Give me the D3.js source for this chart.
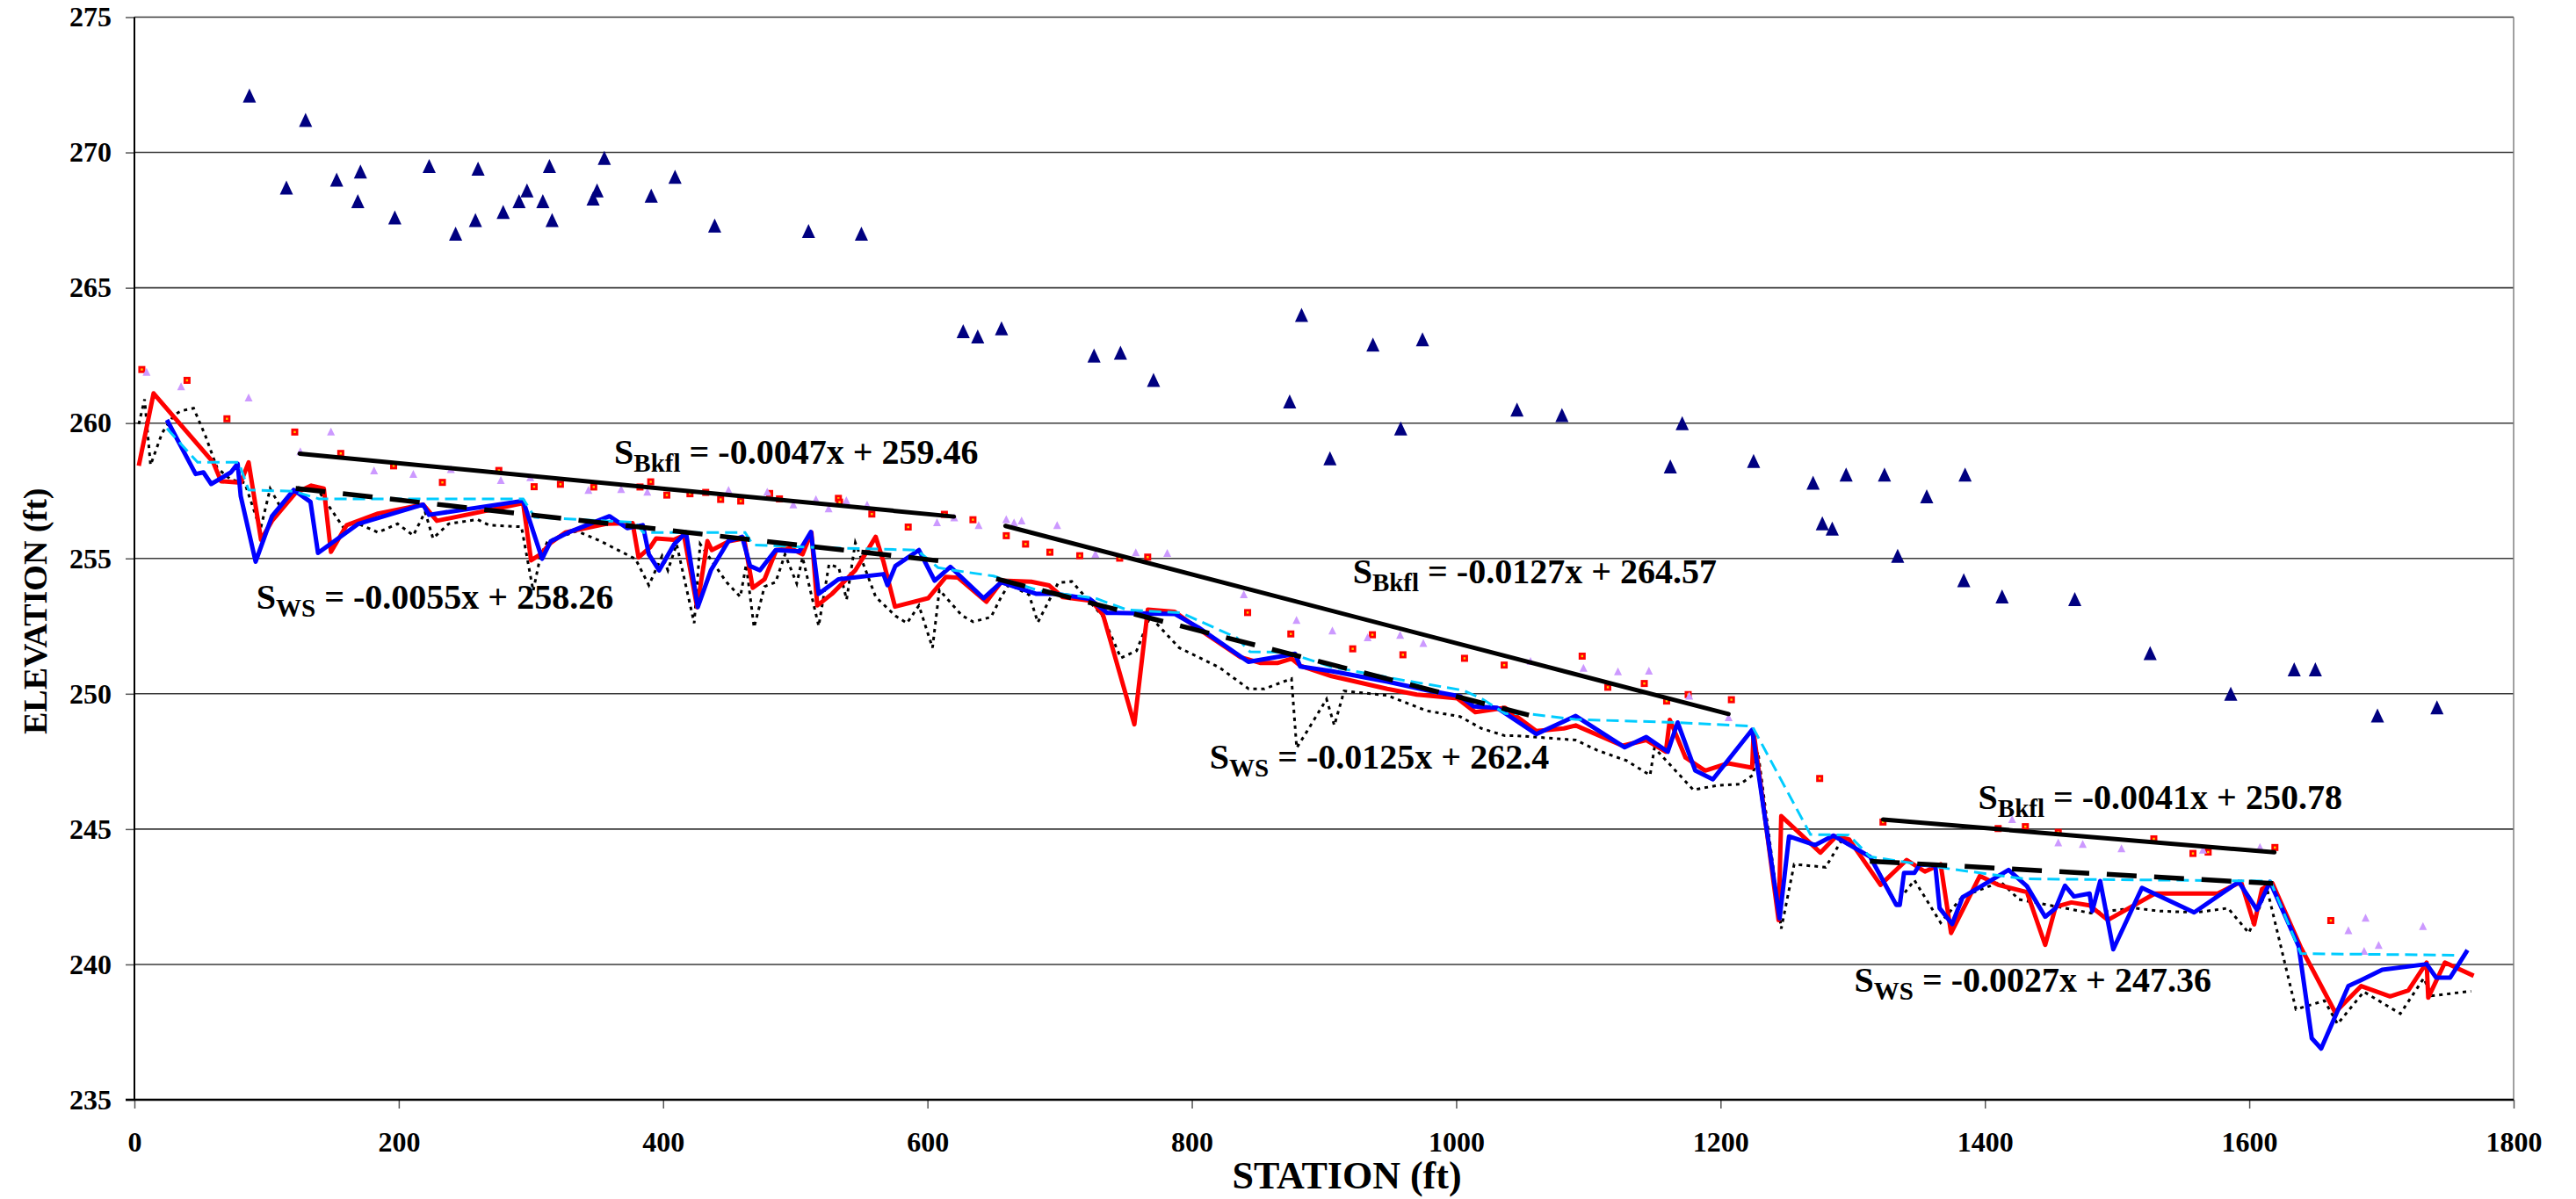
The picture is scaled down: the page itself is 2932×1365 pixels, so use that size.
<!DOCTYPE html>
<html>
<head>
<meta charset="utf-8">
<script src="https://cdn.jsdelivr.net/npm/d3@7"></script>
<style>
  body { margin: 0; background: #ffffff; }
  svg { display: block; }
  text { font-family: "Liberation Serif", "Times New Roman", serif; font-weight: bold; }
</style>
</head>
<body>
<svg id="chart" width="2932" height="1365"></svg>
<script>
// ---------------- data ----------------
const stationTicks = [0, 200, 400, 600, 800, 1000, 1200, 1400, 1600, 1800];
const elevationTicks = [235, 240, 245, 250, 255, 260, 265, 270, 275];

// valley / terrace elevations [station, elevation]
const terrace = [
  [87,272.1],[115,268.7],[129.5,271.2],[153,269.0],[169,268.2],[171,269.3],[197,267.6],[223,269.5],
  [243,267.0],[258,267.5],[260,269.4],[279,267.8],[291,268.2],[297,268.6],[309,268.2],[314,269.5],
  [316,267.5],[347,268.3],[350,268.6],[355.5,269.8],[391,268.4],[409,269.1],[439,267.3],[510,267.1],
  [550,267.0],[627,263.4],[638,263.2],[656,263.5],[726,262.5],[746,262.6],[771,261.6],[874,260.8],
  [883,264.0],[904.5,258.7],[937,262.9],[958,259.8],[974.5,263.1],[1046,260.5],[1080,260.3],
  [1162,258.4],[1171,260.0],[1225,258.6],[1270,257.8],[1277,256.3],[1284.5,256.1],[1295,258.1],
  [1324,258.1],[1334,255.1],[1356,257.3],[1384,254.2],[1385,258.1],[1413,253.6],[1468,253.5],
  [1525,251.5],[1586,250.0],[1634,250.9],[1650,250.9],[1697,249.2],[1742,249.5]
];

// bankfull indicators, left bank [station, elevation]
const bkflLeft = [
  [5.6,261.98],[39.8,261.58],[70.0,260.16],[121.3,259.67],[156.1,258.88],[196.1,258.42],[233,257.81],
  [275.7,258.25],[302.4,257.65],[322.3,257.74],[347.5,257.64],[382.5,257.64],[390.6,257.83],
  [402.8,257.34],[420.3,257.39],[432.2,257.44],[443.5,257.18],[458.7,257.12],[480.6,257.40],
  [488.0,257.20],[532.6,257.22],[533.5,257.08],[557.9,256.64],[585.4,256.16],[612.8,256.63],
  [634.4,256.43],[659.6,255.84],[674.2,255.53],[692.6,255.23],[715.2,255.10],[745.4,255.01],
  [766.6,255.05],[842.2,253.00],[874.9,252.21],[921.7,251.66],[936.6,252.18],[959.7,251.44],
  [1006.3,251.31],[1036.3,251.06],[1095.3,251.39],[1114.7,250.24],[1142.3,250.38],[1159.2,249.73],
  [1175.5,249.97],[1208.2,249.78],[1275.0,246.87],[1322.9,245.26],[1410.0,245.02],[1430.6,245.09],
  [1455.5,244.88],[1527.8,244.64],[1557.4,244.10],[1568.9,244.15],[1619.4,244.32],[1661.7,241.62]
];

// bankfull indicators, right bank [station, elevation]
const bkflRight = [
  [9.2,261.9],[35.3,261.36],[86.4,260.95],[125.5,258.96],[148.7,259.69],[181.3,258.25],[211.0,258.12],
  [239.4,258.30],[277.2,257.90],[299.5,258.00],[343.5,257.53],[368.2,257.56],[388,257.47],
  [449.5,257.53],[478.8,257.47],[498.5,257.00],[515.6,257.19],[525.2,256.85],[538.6,257.15],
  [554.3,256.99],[607.2,256.34],[620.2,256.52],[638.7,256.23],[659.6,256.45],[665.5,256.33],
  [671.2,256.40],[698.1,256.23],[727.0,255.17],[757.6,255.23],[781.4,255.20],[839.3,253.68],
  [879.2,252.73],[906.3,252.34],[933.0,252.09],[957.6,252.18],[975.1,251.88],[1056.2,251.21],
  [1096.3,250.96],[1122.4,250.83],[1145.8,250.85],[1176.3,249.93],[1206.1,249.13],[1420.6,245.37],
  [1455.5,244.51],[1474.0,244.45],[1503.3,244.29],[1565.0,244.24],[1608.1,244.34],[1675.0,241.26],
  [1686.9,240.50],[1688.0,241.73],[1697.9,240.72],[1731.4,241.42]
];

// water surface, first survey (red) [station, elevation]
const wsSurvey1 = [
  [3.3,258.42],[14.5,261.10],[59.6,258.55],[65.6,257.85],[80.4,257.80],[86.4,258.55],[95.8,255.69],
  [104.1,256.39],[121.9,257.42],[133.8,257.69],[143.3,257.58],[148.7,255.24],[160.6,256.23],
  [184.3,256.66],[218.4,256.99],[228.8,256.39],[294.1,257.04],[300.1,254.93],[307.2,255.15],
  [315.0,255.58],[326.0,255.96],[346.0,256.17],[357.0,256.28],[376.9,256.31],[381.4,255.04],
  [390.3,255.42],[394.7,255.74],[408.0,255.69],[415.8,255.85],[425.7,253.20],[433.5,255.64],
  [436.8,255.31],[450.1,255.64],[461.2,255.74],[467.8,253.91],[476.7,254.23],[485.6,255.31],
  [496.7,255.37],[505.5,255.15],[512.2,255.96],[516.6,253.26],[527.7,253.69],[545.4,254.56],
  [553.4,255.20],[560.8,255.80],[566.7,254.88],[575.4,253.22],[600.5,253.53],[614.0,254.32],
  [623.1,254.29],[644.6,253.40],[656.5,254.18],[678.5,254.14],[692.1,254.00],[702.3,253.57],
  [724.3,253.43],[732.8,252.92],[756.5,248.87],[766.7,253.11],[787.0,253.03],[805,252.40],
  [836.8,251.35],[851.6,251.14],[865.2,251.14],[875.4,251.30],[882.2,251.03],[905.8,250.65],
  [947.9,250.18],[970.2,249.97],[1000.8,249.83],[1014.4,249.32],[1036.9,249.48],[1060.6,248.62],
  [1081.5,248.72],[1090.4,248.83],[1125.9,248.08],[1143.8,248.29],[1158.6,247.86],[1161.6,249.04],
  [1173.5,247.64],[1188.3,247.16],[1205.7,247.43],[1223.9,247.27],[1225.0,248.60],[1243.9,241.64],
  [1245.9,245.48],[1275.5,244.13],[1287.4,244.73],[1297.3,244.62],[1321.0,242.94],[1340.8,243.86],
  [1354.6,243.43],[1366.5,243.70],[1374.4,241.16],[1396.2,243.27],[1410.0,242.94],[1431.8,242.67],
  [1445.6,240.72],[1453.5,242.13],[1465.4,242.29],[1479.2,242.18],[1493.0,241.64],[1528.6,242.62],
  [1576.1,242.62],[1593.8,243.05],[1603.7,241.48],[1609.6,242.78],[1617.5,243.00],[1639.2,240.61],
  [1665.0,238.23],[1684.7,239.20],[1706.5,238.82],[1720.3,239.04],[1734.2,240.07],[1735.4,238.77],
  [1748.0,240.07],[1769.8,239.58]
];

// water surface, second survey (blue) [station, elevation]
const wsSurvey2 = [
  [24.6,260.12],[46.3,258.12],[52.2,258.18],[58.1,257.75],[73.0,258.18],[78.1,258.50],[80.4,257.31],
  [91.7,254.88],[104.1,256.56],[120.5,257.53],[133.2,257.09],[138.9,255.20],[169.5,256.28],
  [218.4,256.99],[222.9,256.61],[294.1,257.13],[308.4,254.99],[314.9,255.63],[328.3,255.96],
  [359.4,256.56],[372.8,256.12],[384.6,256.23],[389.2,255.15],[397.0,254.56],[408.4,255.53],
  [417.3,255.96],[426.2,253.20],[436.1,254.56],[449.4,255.64],[459.8,255.80],[465.8,254.72],
  [473.2,254.56],[485.1,255.31],[502.9,255.26],[511.8,255.98],[517.7,253.69],[532.6,254.23],
  [566.7,254.42],[569.7,254.01],[575.7,254.72],[593.5,255.31],[605.4,254.18],[617.3,254.69],
  [642.4,253.53],[655.8,254.12],[682.5,253.69],[697.3,253.69],[722.6,253.51],[735.9,252.99],
  [787.0,252.95],[805,252.45],[842.8,251.18],[872.1,251.42],[878.1,251.48],[882.0,251.01],
  [906.4,250.83],[947.9,250.45],[977.6,250.13],[1002.8,249.91],[1013.2,249.53],[1031.0,249.48],
  [1060.6,248.51],[1090.4,249.18],[1127.5,248.02],[1143.8,248.40],[1160.1,247.86],[1167.5,248.94],
  [1180.9,247.16],[1194.2,246.84],[1223.9,248.67],[1244.7,241.70],[1251.8,244.73],[1271.6,244.41],
  [1285.4,244.76],[1313.1,243.98],[1332.9,242.20],[1335.6,242.20],[1338.8,243.38],[1346.7,243.38],
  [1350.7,243.70],[1362.5,243.65],[1365.7,242.08],[1375.2,241.49],[1383.1,242.48],[1417.9,243.49],
  [1431.8,242.89],[1445.6,241.76],[1453.5,242.08],[1460.6,242.91],[1467.4,242.51],[1479.2,242.62],
  [1481.2,241.97],[1487.2,243.08],[1497.1,240.56],[1518.8,242.83],[1558.3,241.92],[1592.0,243.05],
  [1605.8,242.02],[1615.7,243.05],[1637.4,240.67],[1647.3,237.27],[1654.4,236.89],[1675.0,239.20],
  [1684.7,239.42],[1700.6,239.80],[1734.2,240.01],[1741.4,239.51],[1752.0,239.51],[1765.1,240.53]
];

// thalweg (black dotted) [station, elevation]
const thalweg = [
  [3.3,259.96],[7.7,260.88],[12.2,258.45],[21.0,259.64],[29.9,260.29],[35.2,260.45],[44.8,260.55],
  [53.7,259.53],[62.6,258.34],[73.0,257.91],[83.4,257.80],[95.3,256.07],[102.7,257.58],[110.1,256.93],
  [121.9,257.64],[139.7,257.47],[160.6,255.96],[169.5,256.28],[184.3,255.96],[199.1,256.28],
  [211.0,255.85],[219.9,256.72],[225.9,255.74],[237.7,256.28],[259.6,256.44],[268.4,256.23],
  [292.8,256.17],[301.7,253.80],[307.2,255.10],[312.7,255.64],[334.9,256.01],[352.6,255.64],
  [379.1,254.98],[389.2,254.01],[399.2,255.09],[403.6,254.56],[410.2,255.53],[423.5,252.61],
  [428.0,255.53],[448.0,254.12],[458.4,253.58],[462.8,254.77],[468.8,252.45],[476.7,253.96],
  [485.1,254.12],[492.2,255.15],[501.1,254.07],[505.5,255.04],[517.7,252.50],[525.5,254.78],
  [532.9,254.66],[538.8,253.48],[545.4,255.58],[560.8,253.58],[575.7,252.88],[584.5,252.61],
  [593.5,253.26],[603.8,251.70],[609.0,253.84],[626.1,252.89],[634.5,252.66],[648.0,252.83],
  [655.8,253.58],[661.6,254.04],[676.8,253.66],[683.5,252.64],[698.9,254.10],[709.1,254.15],
  [732.8,252.85],[746.3,251.32],[758.2,251.59],[768.4,252.85],[790.4,251.70],[820.9,250.97],
  [843.0,250.18],[854.9,250.18],[875.4,250.56],[879.3,248.00],[888.5,248.72],[901.9,249.80],
  [907.8,248.83],[915.2,250.10],[947.9,249.94],[977.6,249.37],[1002.8,249.16],[1019.1,248.72],
  [1036.9,248.45],[1045.9,248.45],[1090.4,248.29],[1106.7,247.91],[1128.9,247.53],[1146.7,246.99],
  [1150.0,248.00],[1179.4,246.45],[1197.2,246.61],[1214.8,246.66],[1224.3,246.99],[1228.3,247.86],
  [1245.9,241.32],[1255.7,243.70],[1279.5,243.59],[1291.3,244.56],[1313.0,244.00],[1332.9,242.25],
  [1346.7,243.11],[1366.5,241.54],[1383.1,242.51],[1412.0,243.05],[1425.8,242.40],[1449.5,242.18],
  [1480.0,241.90],[1512.9,242.08],[1532.5,241.97],[1560.1,241.92],[1583.9,242.08],[1599.7,241.16],
  [1613.5,242.78],[1635.3,238.34],[1656.9,238.66],[1666.8,237.80],[1686.7,238.99],[1714.3,238.18],
  [1732.0,239.49],[1737.9,238.84],[1767.8,239.01]
];

// modelled water surface (cyan dashed) [station, elevation]
const wsModel = [
  [24.6,259.80],[47.8,258.55],[78.9,258.55],[86.4,257.53],[120.5,257.48],[139.7,257.20],[294.1,257.20],
  [302.8,256.52],[379.0,256.33],[385.0,255.96],[462.0,255.96],[468.0,255.50],[517.0,255.40],
  [592.0,255.31],[608.0,254.66],[620.0,254.56],[650.0,254.35],[685.0,253.80],[727.0,253.53],
  [751.0,253.10],[792.0,252.99],[834.0,252.07],[844.0,251.55],[872.0,251.53],[905.0,251.00],
  [960.0,250.50],[1005.0,250.13],[1020.0,249.80],[1037.0,249.27],[1056.0,249.25],[1090.0,249.05],
  [1160.0,248.95],[1224.0,248.80],[1268.0,244.80],[1297.0,244.78],[1313.0,243.98],[1372.0,243.54],
  [1430.0,243.16],[1616.0,243.08],[1639.0,240.40],[1755.0,240.34]
];

// linear fits by reach: bankfull and water surface
const bkflFitFrom = [125, 659, 1323];
const bkflFitTo = [620, 1206, 1619];
const bkflFitSlope = [-0.0047, -0.0127, -0.0041];
const bkflFitIntercept = [259.46, 264.57, 250.78];

const wsFitFrom = [122, 652, 1313];
const wsFitTo = [620, 1055, 1618];
const wsFitSlope = [-0.0055, -0.0125, -0.0027];
const wsFitIntercept = [258.26, 262.4, 247.36];

// ---------------- layout ----------------
const W = 2932, H = 1365;
const plot = { left: 153, right: 2861, top: 19.5, bottom: 1252 };

const svg = d3.select("#chart");
svg.append("rect").attr("width", W).attr("height", H).attr("fill", "#ffffff");

const x = d3.scaleLinear().domain([0, 1800]).range([plot.left, plot.right]);
const y = d3.scaleLinear().domain([235, 275]).range([plot.bottom, plot.top]);

// horizontal gridlines
svg.append("g").selectAll("line")
  .data(elevationTicks.filter(v => v > 235))
  .join("line")
  .attr("x1", plot.left).attr("x2", plot.right)
  .attr("y1", d => y(d)).attr("y2", d => y(d))
  .attr("stroke", "#3a3a3a").attr("stroke-width", 1.6);

// right edge of plot area
svg.append("line")
  .attr("x1", plot.right).attr("x2", plot.right)
  .attr("y1", plot.top).attr("y2", plot.bottom)
  .attr("stroke", "#808080").attr("stroke-width", 1.5);

// axes
const yAxis = d3.axisLeft(y).tickValues(elevationTicks).tickSize(10).tickPadding(16).tickFormat(d3.format("d"));
const xAxis = d3.axisBottom(x).tickValues(stationTicks).tickSize(10).tickPadding(26).tickFormat(d3.format("d"));

const gy = svg.append("g").attr("transform", `translate(${plot.left},0)`).call(yAxis);
const gx = svg.append("g").attr("transform", `translate(0,${plot.bottom})`).call(xAxis);

[gx, gy].forEach(g => {
  g.select(".domain").remove();
  g.selectAll(".tick line").attr("stroke", "#555").attr("stroke-width", 1.5);
  g.selectAll(".tick text").attr("fill", "#000").style("font-size", "32px")
    .style("font-family", '"Liberation Serif", "Times New Roman", serif').style("font-weight", "bold");
});
gx.selectAll(".tick text").attr("dy", "0.71em");

svg.append("line").attr("x1", plot.left).attr("x2", plot.left)
  .attr("y1", plot.top).attr("y2", plot.bottom + 1)
  .attr("stroke", "#000").attr("stroke-width", 2);
svg.append("line").attr("x1", plot.left - 10).attr("x2", plot.right)
  .attr("y1", plot.bottom).attr("y2", plot.bottom)
  .attr("stroke", "#000").attr("stroke-width", 2.5);

// axis titles
svg.append("text")
  .attr("x", 1533).attr("y", 1353)
  .attr("text-anchor", "middle")
  .style("font-size", "44px")
  .text("STATION (ft)");

svg.append("text")
  .attr("transform", `translate(53,${(plot.top + plot.bottom) / 2 + 60}) rotate(-90)`)
  .attr("text-anchor", "middle")
  .style("font-size", "38px")
  .text("ELEVATION (ft)");

// ---------------- marks ----------------
function triPath(w, h) {
  return `M0,${-h / 2}L${w / 2},${h / 2}L${-w / 2},${h / 2}Z`;
}

// terrace points
svg.append("g").selectAll("path")
  .data(terrace)
  .join("path")
  .attr("d", triPath(15, 16))
  .attr("transform", d => `translate(${x(d[0])},${y(d[1])})`)
  .attr("fill", "#000080");

// left bank bankfull points
const sq = svg.append("g").selectAll("g")
  .data(bkflLeft)
  .join("g")
  .attr("transform", d => `translate(${x(d[0])},${y(d[1])})`);
sq.append("rect").attr("x", -4).attr("y", -4).attr("width", 8).attr("height", 8).attr("fill", "#ff0000");
sq.append("rect").attr("x", -1.2).attr("y", -1.2).attr("width", 2.4).attr("height", 2.4).attr("fill", "#ffcc00");

// right bank bankfull points
svg.append("g").selectAll("path")
  .data(bkflRight)
  .join("path")
  .attr("d", triPath(9, 9))
  .attr("transform", d => `translate(${x(d[0])},${y(d[1])})`)
  .attr("fill", "#cc99ff");

const line = d3.line().x(d => x(d[0])).y(d => y(d[1]));

svg.append("path").datum(thalweg)
  .attr("d", line).attr("fill", "none")
  .attr("stroke", "#000").attr("stroke-width", 3)
  .attr("stroke-dasharray", "4,5");

svg.append("path").datum(wsSurvey1)
  .attr("d", line).attr("fill", "none")
  .attr("stroke", "#ff0000").attr("stroke-width", 5)
  .attr("stroke-linejoin", "round");

svg.append("path").datum(wsSurvey2)
  .attr("d", line).attr("fill", "none")
  .attr("stroke", "#0000ff").attr("stroke-width", 5)
  .attr("stroke-linejoin", "round");

svg.append("path").datum(wsModel)
  .attr("d", line).attr("fill", "none")
  .attr("stroke", "#00ccff").attr("stroke-width", 3)
  .attr("stroke-dasharray", "14,7");

// fitted lines
const bkflFits = bkflFitFrom.map((f, i) => ({ from: f, to: bkflFitTo[i], m: bkflFitSlope[i], b: bkflFitIntercept[i] }));
const wsFits = wsFitFrom.map((f, i) => ({ from: f, to: wsFitTo[i], m: wsFitSlope[i], b: wsFitIntercept[i] }));

svg.append("g").selectAll("line")
  .data(bkflFits)
  .join("line")
  .attr("x1", d => x(d.from)).attr("y1", d => y(d.m * d.from + d.b))
  .attr("x2", d => x(d.to)).attr("y2", d => y(d.m * d.to + d.b))
  .attr("stroke", "#000").attr("stroke-width", 5).attr("stroke-linecap", "round");

svg.append("g").selectAll("line")
  .data(wsFits)
  .join("line")
  .attr("x1", d => x(d.from)).attr("y1", d => y(d.m * d.from + d.b))
  .attr("x2", d => x(d.to)).attr("y2", d => y(d.m * d.to + d.b))
  .attr("stroke", "#000").attr("stroke-width", 5.5)
  .attr("stroke-dasharray", "34,20");

// equation labels (anchor = start of text baseline, in data units)
const bkflLabelAt = [[363, 258.50], [921.7, 254.07], [1394.9, 245.75]];
const wsLabelAt = [[92.3, 253.15], [813.5, 247.23], [1301.2, 238.99]];

function eqLabel(fit, at, sub) {
  const t = svg.append("text")
    .attr("x", x(at[0])).attr("y", y(at[1]))
    .style("font-size", "40px");
  t.append("tspan").text("S");
  t.append("tspan").attr("dy", 9).style("font-size", "29px").text(sub);
  t.append("tspan").attr("dy", -9).text(` = ${fit.m}x + ${fit.b}`);
}
bkflFits.forEach((f, i) => eqLabel(f, bkflLabelAt[i], "Bkfl"));
wsFits.forEach((f, i) => eqLabel(f, wsLabelAt[i], "WS"));
</script>
</body>
</html>
